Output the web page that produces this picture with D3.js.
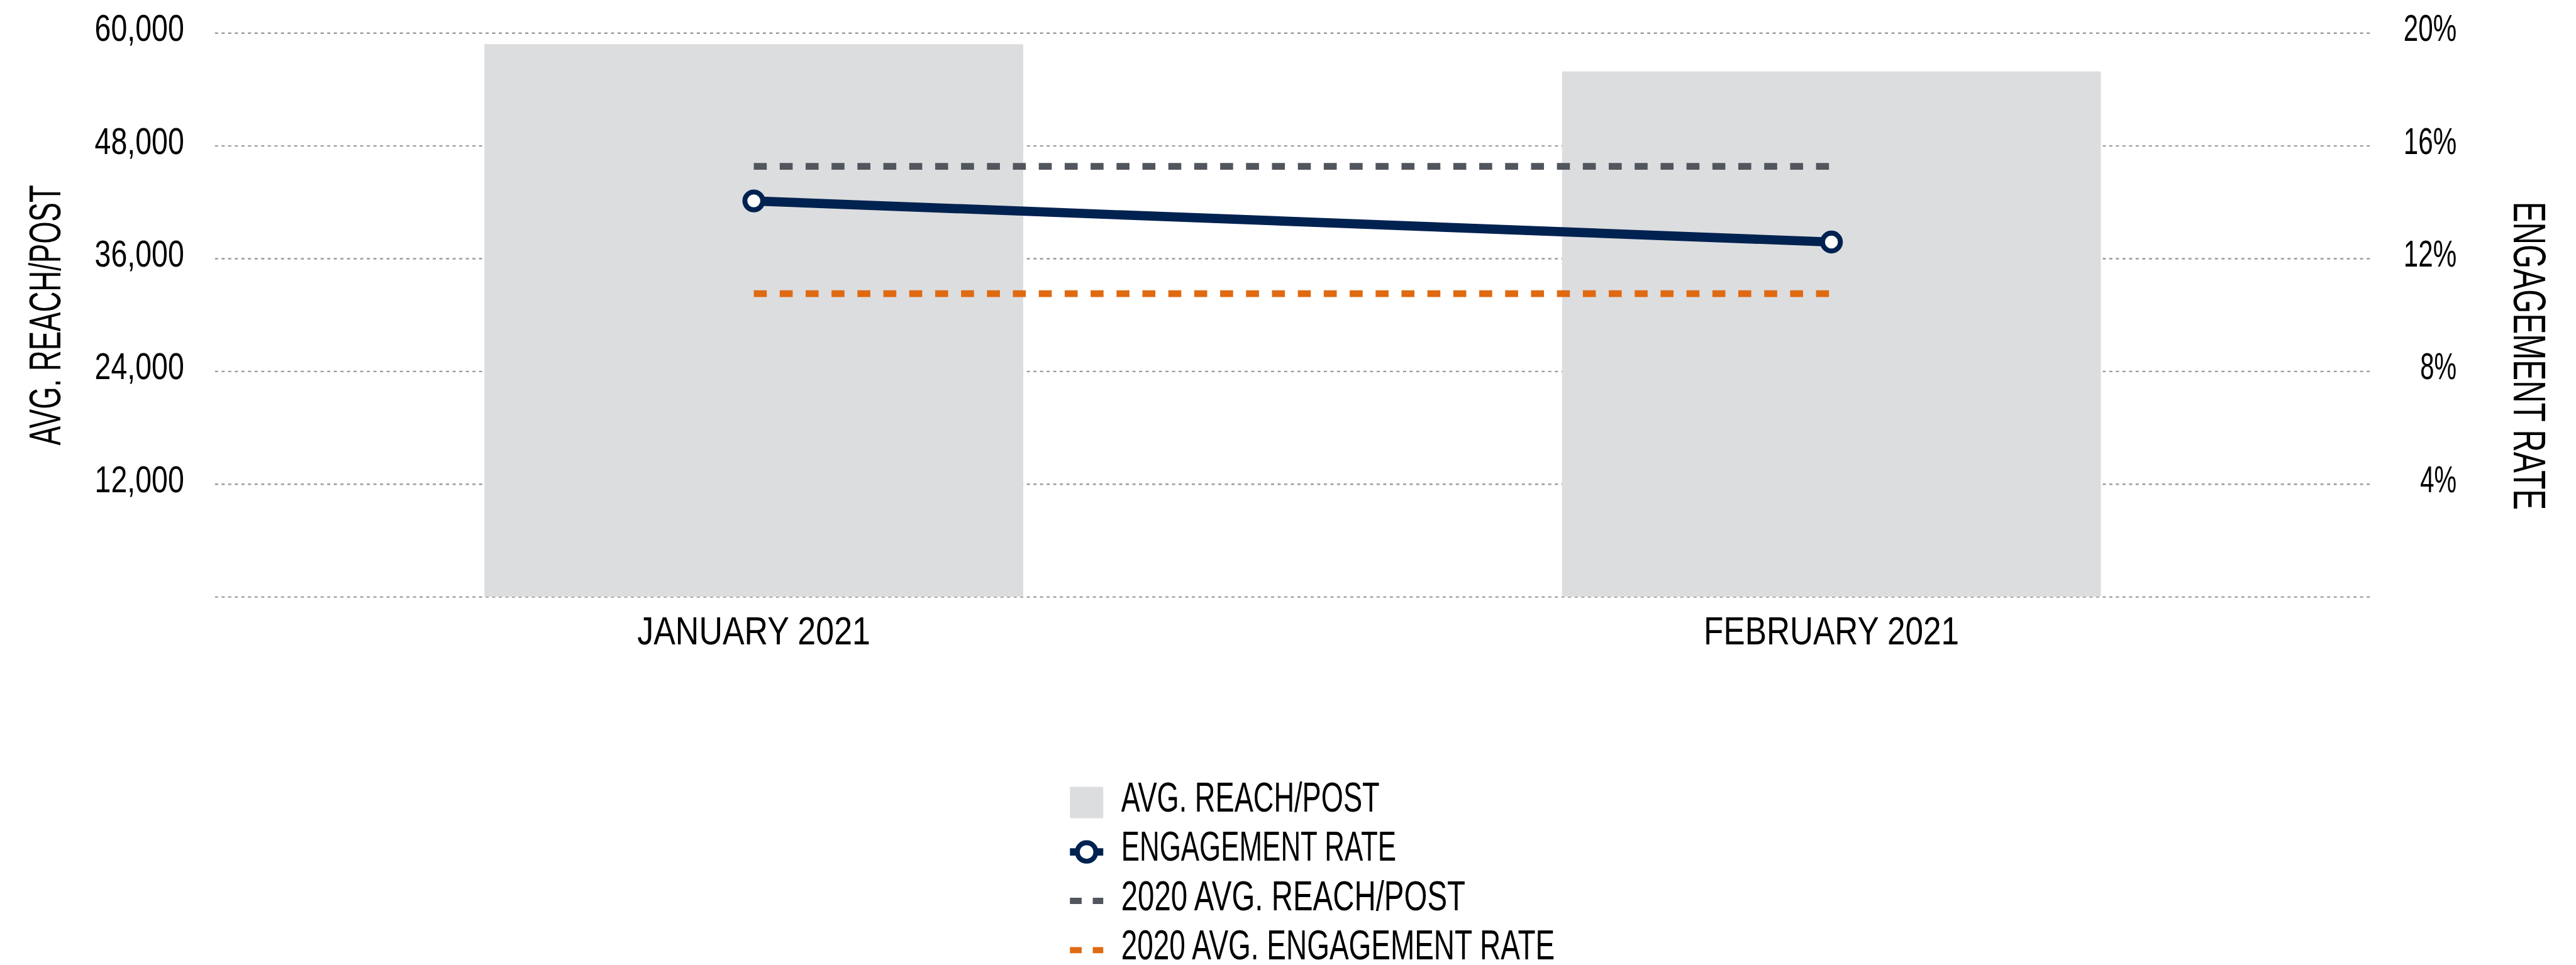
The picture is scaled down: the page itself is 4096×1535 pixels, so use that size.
<!DOCTYPE html>
<html>
<head>
<meta charset="utf-8">
<script src="https://cdn.jsdelivr.net/npm/d3@7"></script>
<style>
  html, body { margin: 0; padding: 0; background: #ffffff; overflow: hidden; }
  svg { display: block; }
  text { font-family: "Liberation Sans Narrow", "Liberation Sans", Arial, sans-serif; fill: #000; }
</style>
</head>
<body>
<svg id="chart" width="4096" height="1535" viewBox="0 0 4175 1565"></svg>
<script>
// Monthly social media performance
const months = ["JANUARY 2021", "FEBRUARY 2021"];
const avgReachPerPost = [58800, 55900];
const engagementRate = [0.1404, 0.1258];
const reach2020Avg = 45800;
const engagement2020Avg = 0.1075;

const reachTicks = [0, 12000, 24000, 36000, 48000, 60000];
const rateTicks = [0.04, 0.08, 0.12, 0.16, 0.20];

const legendLabels = ["AVG. REACH/POST", "ENGAGEMENT RATE", "2020 AVG. REACH/POST", "2020 AVG. ENGAGEMENT RATE"];

const colors = {
  bar: "#dcdddf",
  line: "#002250",
  refReach: "#51565e",
  refRate: "#df6a12",
  grid: "#9b9b9b"
};

const plot = { left: 348, right: 3842, top: 53.3, bottom: 967.7 };

const svg = d3.select("#chart");

// Squeeze a text element to a given drawn width
function fitWidth(sel, width) {
  sel.attr("textLength", width).attr("lengthAdjust", "spacingAndGlyphs");
}

const x = d3.scaleBand().domain(months).range([plot.left, plot.right])
  .paddingInner(0.5).paddingOuter(0.25);
const yReach = d3.scaleLinear().domain([0, 60000]).range([plot.bottom, plot.top]);
const yRate = d3.scaleLinear().domain([0, 0.20]).range([plot.bottom, plot.top]);
const center = m => x(m) + x.bandwidth() / 2;

// Left axis with dotted gridlines
const leftAxis = svg.append("g")
  .attr("transform", `translate(${plot.left},0)`)
  .call(d3.axisLeft(yReach)
    .tickValues(reachTicks)
    .tickSize(-(plot.right - plot.left))
    .tickPadding(50)
    .tickFormat(d => d === 0 ? "" : d3.format(",")(d)));
leftAxis.select(".domain").remove();
leftAxis.selectAll(".tick line")
  .attr("stroke", colors.grid)
  .attr("stroke-width", 2.5)
  .attr("stroke-dasharray", "5 5.7");
leftAxis.selectAll(".tick text")
  .attr("dy", 12.7)
  .attr("font-size", 60)
  .attr("text-anchor", "end")
  .style("font-family", null);
leftAxis.selectAll(".tick text").filter(d => d !== 0).each(function () { fitWidth(d3.select(this), 145); });

// Right axis labels
const rightAxis = svg.append("g")
  .attr("transform", `translate(${plot.right},0)`)
  .call(d3.axisRight(yRate)
    .tickValues(rateTicks)
    .tickSize(0)
    .tickFormat(d3.format(".0%")));
rightAxis.select(".domain").remove();
rightAxis.selectAll(".tick text")
  .attr("x", 140)
  .attr("dy", 12.7)
  .attr("font-size", 60)
  .attr("text-anchor", "end")
  .each(function (d) { fitWidth(d3.select(this), d >= 0.1 ? 86 : 59); });

// Bars: average reach per post
svg.append("g").selectAll("rect")
  .data(months)
  .join("rect")
  .attr("x", m => x(m))
  .attr("width", x.bandwidth())
  .attr("y", (m, i) => yReach(avgReachPerPost[i]))
  .attr("height", (m, i) => yReach(0) - yReach(avgReachPerPost[i]))
  .attr("fill", colors.bar);

// 2020 reference lines
svg.append("line")
  .attr("x1", center(months[0])).attr("x2", center(months[1]))
  .attr("y1", yReach(reach2020Avg)).attr("y2", yReach(reach2020Avg))
  .attr("stroke", colors.refReach).attr("stroke-width", 11)
  .attr("stroke-dasharray", "21 21");
svg.append("line")
  .attr("x1", center(months[0])).attr("x2", center(months[1]))
  .attr("y1", yRate(engagement2020Avg)).attr("y2", yRate(engagement2020Avg))
  .attr("stroke", colors.refRate).attr("stroke-width", 11)
  .attr("stroke-dasharray", "21 21");

// Engagement rate line with hollow markers
const rateData = months.map((m, i) => ({ m, v: engagementRate[i] }));
svg.append("path")
  .datum(rateData)
  .attr("d", d3.line().x(d => center(d.m)).y(d => yRate(d.v)))
  .attr("fill", "none")
  .attr("stroke", colors.line)
  .attr("stroke-width", 15);
svg.append("g").selectAll("circle")
  .data(rateData)
  .join("circle")
  .attr("cx", d => center(d.m))
  .attr("cy", d => yRate(d.v))
  .attr("r", 14.5)
  .attr("fill", "#fff")
  .attr("stroke", colors.line)
  .attr("stroke-width", 8);

// Category labels
const xWidths = [378, 414];
svg.append("g").selectAll("text")
  .data(months)
  .join("text")
  .attr("x", m => center(m))
  .attr("y", 1045)
  .attr("text-anchor", "middle")
  .attr("font-size", 65)
  .text(m => m)
  .each(function (m, i) { fitWidth(d3.select(this), xWidths[i]); });

// Axis titles
svg.append("text")
  .attr("transform", "translate(97,511) rotate(-90)")
  .attr("text-anchor", "middle")
  .attr("font-size", 71)
  .text("AVG. REACH/POST")
  .call(fitWidth, 422);
svg.append("text")
  .attr("transform", "translate(4075,577) rotate(90)")
  .attr("text-anchor", "middle")
  .attr("font-size", 74)
  .text("ENGAGEMENT RATE")
  .call(fitWidth, 500);

// Legend
const legend = svg.append("g").attr("transform", "translate(1734,0)");
const rowBase = [1316, 1396, 1476, 1556];
const legendWidths = [419, 446, 558, 703];

legend.append("rect")
  .attr("x", 0).attr("y", 1276).attr("width", 54).attr("height", 51)
  .attr("fill", colors.bar);

legend.append("line")
  .attr("x1", 0).attr("x2", 54).attr("y1", 1381.7).attr("y2", 1381.7)
  .attr("stroke", colors.line).attr("stroke-width", 12);
legend.append("circle")
  .attr("cx", 27).attr("cy", 1381.7).attr("r", 15)
  .attr("fill", "#fff").attr("stroke", colors.line).attr("stroke-width", 8);

[[1461, colors.refReach], [1541, colors.refRate]].forEach(([yy, c]) => {
  legend.append("line")
    .attr("x1", 0).attr("x2", 54).attr("y1", yy).attr("y2", yy)
    .attr("stroke", c).attr("stroke-width", 10)
    .attr("stroke-dasharray", "19 18");
});

legend.selectAll("text.lbl")
  .data(legendLabels)
  .join("text")
  .attr("class", "lbl")
  .attr("x", 83)
  .attr("y", (d, i) => rowBase[i])
  .attr("font-size", 68)
  .text(d => d)
  .each(function (d, i) { fitWidth(d3.select(this), legendWidths[i]); });
</script>
</body>
</html>
